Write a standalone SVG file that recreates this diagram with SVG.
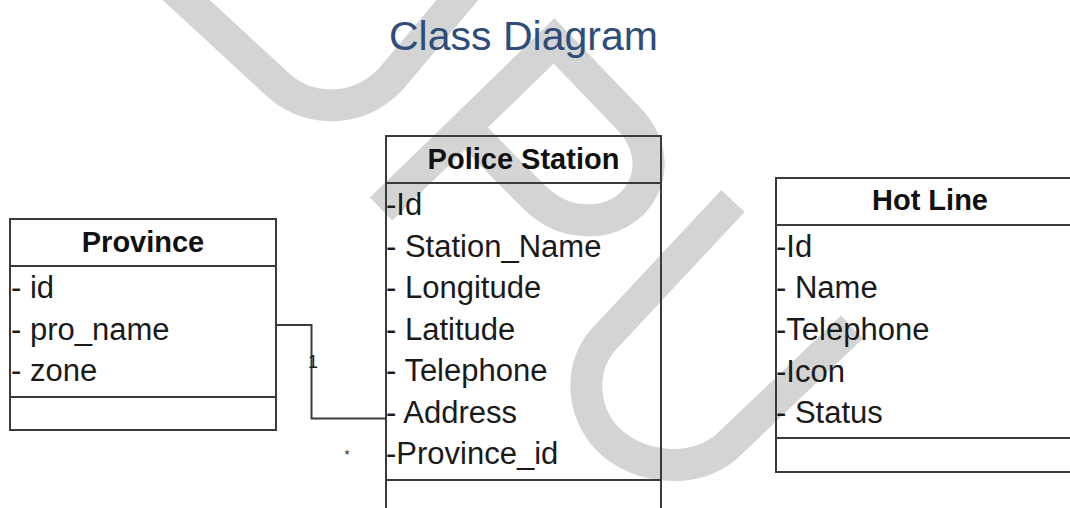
<svg xmlns="http://www.w3.org/2000/svg" width="1070" height="508" viewBox="0 0 1070 508">
  <style>
    .wm { fill: none; stroke: #d4d4d4; stroke-width: 32; stroke-linecap: butt; stroke-linejoin: miter; }
    .box { fill: none; stroke: #3a3a3a; stroke-width: 2; }
    .div { stroke: #3a3a3a; stroke-width: 2; }
    .head { font-family: "Liberation Sans", Arial, sans-serif; font-weight: bold; font-size: 29px; fill: #111; text-anchor: middle; }
    .attr { font-family: "Liberation Sans", Arial, sans-serif; font-size: 31px; fill: #1a1a1a; }
    .title { font-family: "Liberation Sans", Arial, sans-serif; font-size: 41px; fill: #2E4D7B; }
    .edge { fill: none; stroke: #3a3a3a; stroke-width: 2; }
    .mult { font-family: "Liberation Sans", Arial, sans-serif; fill: #222; text-anchor: middle; }
  </style>
  <rect x="0" y="0" width="1070" height="508" fill="#ffffff"/>
  <g id="watermark">
    <path class="wm" d="M 170,-15 L 275,82 C 305,112 355,115 390,80 L 470,-15"/>
    <path class="wm" d="M 381,209 L 554,41 L 628,118 C 672,162 640,225 583,220 C 560,219 545,208 530,193 L 462,124"/>
    <path class="wm" d="M 733,201 L 603,340 C 575,372 585,420 612,443 C 640,467 690,475 725,448 L 852,327"/>
  </g>
  <text id="title" class="title" x="389" y="50">Class Diagram</text>
  <g id="node-province">
    <rect class="box" x="10" y="219" width="266" height="211"/>
    <line class="div" x1="10" y1="266" x2="276" y2="266"/>
    <line class="div" x1="10" y1="397" x2="276" y2="397"/>
    <text class="head" x="143" y="252">Province</text>
    <text class="attr" x="11" y="298">- id</text>
    <text class="attr" x="11" y="340">- pro_name</text>
    <text class="attr" x="11" y="381">- zone</text>
  </g>
  <g id="node-police-station">
    <rect class="box" x="386" y="136" width="275" height="390"/>
    <line class="div" x1="386" y1="183" x2="661" y2="183"/>
    <line class="div" x1="386" y1="480" x2="661" y2="480"/>
    <text class="head" x="523.5" y="169">Police Station</text>
    <text class="attr" x="386" y="215">-Id</text>
    <text class="attr" x="386" y="256.5">- Station_Name</text>
    <text class="attr" x="386" y="298">- Longitude</text>
    <text class="attr" x="386" y="339.5">- Latitude</text>
    <text class="attr" x="386" y="381">- Telephone</text>
    <text class="attr" x="386" y="422.5">- Address</text>
    <text class="attr" x="386" y="464">-Province_id</text>
  </g>
  <g id="node-hot-line">
    <rect class="box" x="776" y="178" width="308" height="294"/>
    <line class="div" x1="776" y1="225" x2="1084" y2="225"/>
    <line class="div" x1="776" y1="438" x2="1084" y2="438"/>
    <text class="head" x="930" y="210">Hot Line</text>
    <text class="attr" x="776" y="256.7">-Id</text>
    <text class="attr" x="776" y="298">- Name</text>
    <text class="attr" x="776" y="340">-Telephone</text>
    <text class="attr" x="776" y="381.7">-Icon</text>
    <text class="attr" x="776" y="423">- Status</text>
  </g>
  <g id="connectors">
    <path class="edge" d="M 276,325 H 311.5 V 418.5 H 386"/>
    <text class="mult" x="313" y="368" font-size="18">1</text>
    <text class="mult" x="347" y="459" font-size="13">*</text>
  </g>
</svg>
